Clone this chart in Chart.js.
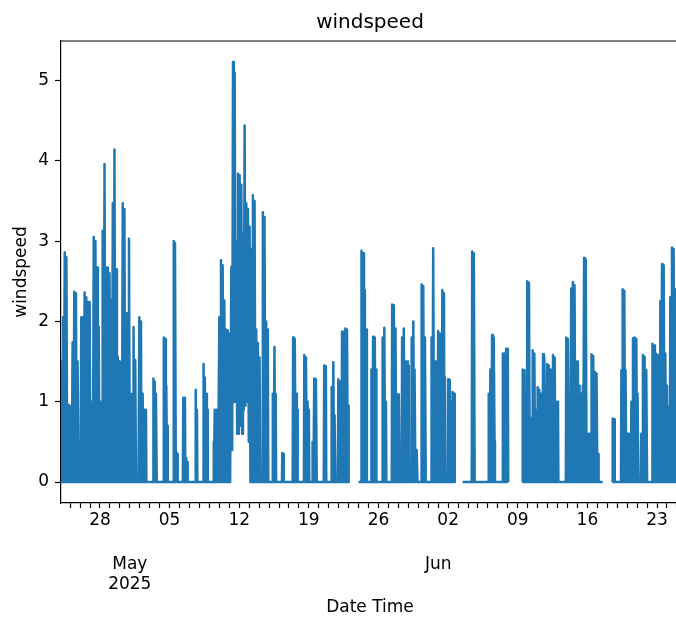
<!DOCTYPE html>
<html>
<head>
<meta charset="utf-8">
<script src="https://cdn.jsdelivr.net/npm/chart.js@4.4.1/dist/chart.umd.min.js"></script>
<style>
  html, body { margin: 0; padding: 0; background: #fff; overflow: hidden; }
  canvas { display: block; }
</style>
</head>
<body>
<canvas id="chart" width="690" height="618"></canvas>
<script>
// Wind speed log. Time is counted in hours after 2025-04-24 00:00; null marks a break in the record.
const hoursFromStart = [
  2,4,6,7,9,11,13,15,17,19,21,23,25,27,28,30,32,34,36,38,40,42,44,49,
  51,53,55,57,59,61,63,65,67,69,71,73,75,76,79,
  81,83,85,87,89,91,93,95,97,99,101,102,
  103,105,107,109,111,113,115,117,119,121,123,125,127,129,131,133,135,137,139,141,143,144,149,
  151,153,155,157,159,161,163,164,166,168,170,172,174,176,177,179,181,183,184,189,
  191,193,195,196,198,199,201,203,205,207,208,
  224,225,227,228,230,231,233,234,
  249,250,252,253,255,256,258,259,260,
  273,274,276,277,279,280,282,283,284,
  296,297,299,301,302,304,306,307,308,
  326,327,329,330,331,
  345,346,348,349,351,352,354,355,356,
  369,370,371,373,375,377,379,380,381,
  383,384,386,388,390,392,394,396,398,400,402,404,406,408,410,412,413,415,417,419,
  421,423,425,427,429,431,433,435,437,439,441,443,445,447,449,451,453,455,457,459,
  461,463,465,467,469,471,473,475,477,479,481,483,
  488,489,491,493,495,497,499,501,502,
  512,513,515,517,519,520,521,
  535,536,538,539,540,
  561,562,564,566,568,569,571,572,573,
  588,589,591,593,595,597,599,600,601,
  608,609,611,613,615,617,619,
  636,637,639,641,642,
  654,655,657,659,661,662,664,
  670,671,673,675,676,
  679,680,682,684,686,688,690,692,694,695,696,697,
  720,726,727,729,731,733,735,737,738,740,
  750,751,753,755,757,759,761,762,763,
  777,778,780,782,784,786,787,
  800,801,803,805,807,809,811,813,815,817,819,820,
  824,825,827,829,831,833,835,837,839,841,842,
  847,848,850,852,854,855,857,860,862,
  871,872,874,876,878,880,882,
  895,896,898,900,902,904,906,908,910,912,914,916,917,
  921,922,924,926,927,928,929,
  935,936,938,940,942,943,944,
  946,947,949,951,952,953,954,
  971,993,994,996,998,1000,
  1033,1034,1036,1038,1040,1042,1044,1046,1048,1049,
  1067,1068,1070,1072,1074,1076,1078,1080,1081,1082,
  1115,1116,1118,1120,1122,1126,1127,1129,1131,1133,1134,1136,1137,1138,
  1139,1140,1142,1144,1146,1147,1148,
  1151,1152,1154,1156,1158,1160,1161,
  1164,1165,1167,1168,1170,1171,1173,1175,1177,1179,1181,1182,1183,
  1188,1189,1191,1193,1195,1197,1199,1201,1202,
  1220,1221,1223,1225,1227,1229,1231,1233,1235,1237,1239,1241,1243,1245,1247,1249,1250,
  1252,1253,1255,1257,1259,1261,1262,1264,1266,1268,1270,1272,1274,1276,1277,
  1281,1282,1284,1286,1288,1290,1292,1294,1296,1298,1299,
  1309,1310,
  1332,1333,1335,1337,1338,
  1353,1354,1356,1357,1359,1361,1363,1364,1366,1367,1369,1370,1372,
  1377,1378,1380,1382,1384,1386,1388,1390,1392,1393,1395,
  1401,1402,1404,1406,1408,1410,1412,1414,1416,1417,
  1428,1429,1431,1433,1435,1437,1439,1441,1442,
  1447,1448,1450,1452,1454,1456,1458,1460,1462,1464,1466,1467,1468,
  1471,1472,1474,1476,1478,1480,1482,1484,1486,1488,1490,1492
];

const windspeed = [
  0,1.5,0,2.05,0,2.86,0,2.8,0,0.96,0,0.95,0,0.9,0,1.74,0,2.37,0,2.35,0,1.5,0,0,
  2.05,0,2.05,0,2.36,0,2.3,0,2.24,0,2.24,0,1.0,0,0,
  3.05,0,3.0,0,2.67,0,1.93,0,1.0,0,1.0,0,
  3.13,0,3.96,0,2.67,0,2.67,0,2.6,0,2.26,0,3.47,0,4.14,0,2.65,0,1.56,0,1.5,0,0,
  3.47,0,3.4,0,2.1,0,1.4,0,3.03,0,1.1,0,1.1,0,1.93,0,1.52,0,0,0,
  2.05,0,2.0,0,0,1.1,0,0.9,0,0.9,0,
  0,1.29,0,1.25,0,1.1,0,0,
  0,1.8,0,1.78,0,1.2,0,0.7,0,
  0,3.0,0,2.98,0,0.37,0,0.35,0,
  0,1.05,0,1.05,0,0.3,0,0.25,0,
  0,1.15,0,0.9,0,
  0,1.47,0,1.3,0,1.1,0,0.9,0,
  0,0.5,0,0.9,0,0.9,0,0.85,0,
  0,2.05,0,2.76,0,2.7,0,2.26,0,1.9,0,1.89,0,1.85,0,0,2.68,0.4,5.23,1.0,
  5.1,1.0,3.0,0.6,3.84,0.6,3.82,0.7,3.7,0.6,3.1,0.9,4.44,0.95,3.47,1.0,3.4,0.5,3.18,0,
  2.9,0,3.57,0,3.5,0,1.9,0,1.73,0,1.55,0,
  0,3.36,0,3.3,0,2.0,0,1.9,0,
  0,1.1,0,1.68,0,1.1,0,
  0,0.36,0,0.35,0,
  0,1.8,0,1.78,0,1.1,0,0.9,0,
  0,1.58,0,1.55,0,1.0,0,0.9,0,
  0,0.5,0,1.29,0,1.28,0,
  0,1.45,0,1.44,0,
  0,1.18,0,1.49,0,0.83,0,
  0,1.28,0,1.25,0,
  0,1.87,0,1.87,0,1.91,0,1.9,0,0.95,0,null,
  0,0,2.88,0,2.85,0,2.39,0,1.9,0,
  0,1.4,0,1.81,0,1.8,0,1.4,0,
  0,1.8,0,1.92,0,1.0,0,
  0,2.21,0,2.2,0,1.91,0,1.09,0,1.09,0,0,
  0,1.8,0,1.91,0,1.5,0,1.5,0,1.45,0,
  0,1.8,0,2.0,0,1.4,0,0.4,0,
  0,2.46,0,2.44,0,1.8,0,
  0,1.8,0,2.91,0,1.5,0,1.5,0,1.88,0,1.85,0,
  0,2.39,0,2.35,0,1.3,0,
  0,1.28,0,1.27,0,1.0,0,
  0,1.12,0,1.1,0,0,null,
  0,0,2.87,0,2.85,0,
  0,1.1,0,1.4,0,1.83,0,1.8,0.5,0,
  0,1.6,0,1.6,0,1.66,0,1.66,0,null,
  0,1.4,0,1.39,0,0,2.5,0,2.48,0,0.8,0,0.7,0,
  0,1.64,0,1.6,0,0.9,0,
  0,1.18,0,1.15,0,1.1,0,
  0,1.59,0,1.55,0,0.8,0,1.47,0,1.45,0,1.4,0,
  0,1.58,0,1.55,0,1.0,0,1.0,0,
  0,1.8,0,1.78,0,1.1,0,2.41,0,2.49,0,2.45,0,1.5,0,1.5,0,
  0,1.2,0,1.1,0,1.2,0,2.79,0,2.77,0,0.6,0,0.6,0,
  0,1.59,0,1.57,0,1.37,0,1.35,0,0.35,0,
  0,null,
  0,0.79,0,0.78,0,
  0,1.39,0,2.4,0,2.38,0,1.39,0,0.6,0,0.6,0,
  0,1.0,0,1.79,0,1.8,0,1.78,0,1.1,0,
  0,0.6,0,1.58,0,1.56,0,1.39,0,0,
  0,1.72,0,1.7,0,1.6,0,1.58,0,
  0,2.25,0,2.71,0,2.7,0,1.6,0,1.2,0,0.93,0,
  0,2.3,0,2.92,0,2.9,0,2.4,0,2.4,0,1.8
];

const recordEndHour = 1493;

// Axis ticks: a mark every midnight, a day label every Monday, month names beneath
const firstMondayHour = 96;             // 2025-04-28 00:00
const dayTickLabels = ['28', '05', '12', '19', '26', '02', '09', '16', '23'];
const monthStartHours = [168, 912];     // 1 May, 1 Jun
const monthTickLabels = [['May', '2025'], ['Jun']];
const yTickValues = [0, 1, 2, 3, 4, 5];

const FONT = 'DejaVu Sans';
Chart.defaults.font.family = FONT;
Chart.defaults.color = '#000';

const points = hoursFromStart.map((h, i) => ({ x: h, y: windspeed[i] }));
const peak = Math.max(...windspeed.filter(v => v !== null));
const yPad = peak * 0.05;

const axesFrame = {
  id: 'axesFrame',
  afterDraw(chart) {
    const { ctx, chartArea: a } = chart;
    ctx.save();
    ctx.strokeStyle = '#000';
    ctx.lineWidth = 1.2;
    ctx.beginPath();
    ctx.moveTo(a.left, a.top);
    ctx.lineTo(a.right, a.top);
    ctx.lineTo(a.right, a.bottom);
    ctx.stroke();
    ctx.restore();
  }
};

new Chart(document.getElementById('chart'), {
  type: 'line',
  data: {
    datasets: [{
      label: 'windspeed',
      data: points,
      borderColor: '#1f77b4',
      borderWidth: 2.5,
      borderJoinStyle: 'round',
      borderCapStyle: 'butt',
      pointRadius: 0,
      tension: 0,
      spanGaps: false,
      fill: false
    }]
  },
  options: {
    responsive: false,
    animation: false,
    devicePixelRatio: 1,
    layout: { padding: { left: 0, right: 11, top: 0, bottom: 0 } },
    plugins: {
      legend: { display: false },
      tooltip: { enabled: false },
      title: {
        display: true,
        text: 'windspeed',
        fullSize: false,
        color: '#000',
        font: { family: FONT, size: 20, weight: 'normal' },
        padding: { top: 11, bottom: 6 }
      }
    },
    scales: {
      x: {
        type: 'linear',
        position: 'bottom',
        weight: 0,
        min: hoursFromStart[0],
        max: recordEndHour,
        afterBuildTicks(scale) {
          const ticks = [];
          for (let h = Math.ceil(scale.min / 24) * 24; h <= scale.max; h += 24) ticks.push({ value: h });
          scale.ticks = ticks;
        },
        afterFit(scale) { scale.height = 40; },
        ticks: {
          autoSkip: false,
          maxRotation: 0,
          minRotation: 0,
          padding: 2,
          font: { size: 17 },
          callback(value) {
            const k = (value - firstMondayHour) / 168;
            return Number.isInteger(k) && k >= 0 && k < dayTickLabels.length ? dayTickLabels[k] : '';
          }
        },
        grid: { drawOnChartArea: false, drawTicks: true, tickLength: 5, tickColor: '#000', tickWidth: 1.2 },
        border: { display: true, color: '#000', width: 1.2 }
      },
      xMonth: {
        type: 'linear',
        position: 'bottom',
        weight: 1,
        min: hoursFromStart[0],
        max: recordEndHour,
        afterBuildTicks(scale) {
          scale.ticks = monthStartHours.map(h => ({ value: h }));
        },
        afterFit(scale) { scale.height = 75; },
        ticks: {
          autoSkip: false,
          maxRotation: 0,
          minRotation: 0,
          padding: 3,
          font: { size: 17 },
          callback(value) {
            const i = monthStartHours.indexOf(value);
            return i >= 0 ? monthTickLabels[i] : '';
          }
        },
        grid: { display: false },
        border: { display: false },
        title: {
          display: true,
          text: 'Date Time',
          font: { size: 17 },
          padding: { top: 0, bottom: 0 }
        }
      },
      y: {
        type: 'linear',
        position: 'left',
        min: -yPad,
        max: peak + yPad,
        afterBuildTicks(scale) {
          scale.ticks = yTickValues.map(v => ({ value: v }));
        },
        afterFit(scale) { scale.width = 61; },
        ticks: {
          padding: 6,
          font: { size: 17 },
          callback: v => String(v)
        },
        grid: { drawOnChartArea: false, drawTicks: true, tickLength: 6, tickColor: '#000', tickWidth: 1.2 },
        border: { display: true, color: '#000', width: 1.2 },
        title: {
          display: true,
          text: 'windspeed',
          font: { size: 17 },
          padding: { top: 11, bottom: 0 }
        }
      }
    }
  },
  plugins: [axesFrame]
});
</script>
</body>
</html>
